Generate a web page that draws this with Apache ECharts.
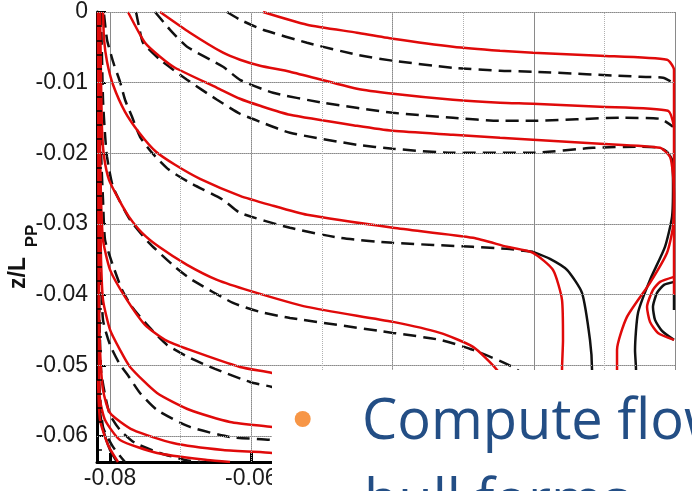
<!DOCTYPE html>
<html>
<head>
<meta charset="utf-8">
<script src="https://cdn.jsdelivr.net/npm/echarts@6/dist/echarts.min.js"></script>
<style>
  html, body { margin: 0; padding: 0; background: #fff; }
  #chart { width: 692px; height: 491px; }
</style>
</head>
<body>
<div id="chart"></div>
<script>
// Axis extents of the z/L_PP section plot
const X_MIN = -0.08185, X_MAX = 0;
const Y_MIN = -0.06368, Y_MAX = 0;

// Minor grid values
const xMinor = [-0.075, -0.07, -0.065, -0.055, -0.05, -0.045, -0.035, -0.03, -0.025, -0.015, -0.01, -0.005];
const yMinor = [-0.062, -0.058, -0.056, -0.054, -0.052, -0.048, -0.046, -0.044, -0.042, -0.038, -0.036, -0.034,
                -0.032, -0.028, -0.026, -0.024, -0.022, -0.018, -0.016, -0.014, -0.012, -0.008, -0.006, -0.004, -0.002];

// Contour levels: red = solid set, black = dashed set
const redA = [[-0.05834,0],[-0.05211,-0.00180],[-0.04503,-0.00293],[-0.03993,-0.00378],[-0.03144,-0.00491],[-0.02478,-0.00548],[-0.02011,-0.00576],[-0.01062,-0.00619],[-0.00113,-0.00675],[-0.00014,-0.00817],[-0.00014,-0.04003]];
const dashA = [[-0.06344,0],[-0.06160,-0.00109],[-0.05834,-0.00251],[-0.05211,-0.00435],[-0.04503,-0.00605],[-0.03993,-0.00690],[-0.03144,-0.00789],[-0.02478,-0.00831],[-0.02011,-0.00845],[-0.00496,-0.00916],[-0.00170,-0.00930],[-0.00028,-0.01001]];

const redB = [[-0.07292,0],[-0.06868,-0.00293],[-0.06400,-0.00576],[-0.06160,-0.00675],[-0.05876,-0.00760],[-0.05452,-0.00845],[-0.04503,-0.01086],[-0.03993,-0.01157],[-0.03144,-0.01242],[-0.02478,-0.01284],[-0.02011,-0.01298],[-0.01062,-0.01341],[-0.00099,-0.01398],[-0.00014,-0.01624]];
const dashB = [[-0.07363,0],[-0.07151,-0.00251],[-0.06910,-0.00491],[-0.06400,-0.00775],[-0.06160,-0.00959],[-0.05692,-0.01143],[-0.04984,-0.01284],[-0.03993,-0.01426],[-0.03144,-0.01497],[-0.02478,-0.01539],[-0.02011,-0.01539],[-0.00779,-0.01497],[-0.00212,-0.01511],[-0.00028,-0.01624]];

const redC = [[-0.07746,0],[-0.07505,-0.00435],[-0.07292,-0.00633],[-0.07080,-0.00789],[-0.06485,-0.01072],[-0.06160,-0.01228],[-0.05876,-0.01327],[-0.05452,-0.01454],[-0.04503,-0.01610],[-0.03993,-0.01681],[-0.03144,-0.01737],[-0.02478,-0.01780],[-0.02011,-0.01808],[-0.01062,-0.01865],[-0.00212,-0.01922],[-0.00071,-0.02049],[-0.00028,-0.02304],[-0.00014,-0.02658],[-0.00028,-0.03040],[-0.00113,-0.03408],[-0.00354,-0.03833],[-0.00680,-0.04315],[-0.00821,-0.04782],[-0.00821,-0.06368]];
const dashC = [[-0.07632,0],[-0.07590,-0.00208],[-0.07533,-0.00435],[-0.07292,-0.00675],[-0.06910,-0.00959],[-0.06485,-0.01242],[-0.06160,-0.01440],[-0.05876,-0.01553],[-0.05452,-0.01709],[-0.04503,-0.01879],[-0.03993,-0.01936],[-0.03144,-0.01992],[-0.02011,-0.01992],[-0.01161,-0.01922],[-0.00496,-0.01907],[-0.00212,-0.01922],[-0.00113,-0.01978]];
const solidC = [[-0.00113,-0.01978],[-0.00042,-0.02091],[-0.00028,-0.02474],[-0.00042,-0.02899],[-0.00142,-0.03323],[-0.00354,-0.03791],[-0.00524,-0.04258],[-0.00566,-0.04782],[-0.00552,-0.05065],[-0.00552,-0.06368]];

const redD = [[-0.08100,0],[-0.08085,-0.00392],[-0.08043,-0.00704],[-0.07958,-0.01029],[-0.07788,-0.01412],[-0.07576,-0.01723],[-0.07349,-0.01978],[-0.07080,-0.02162],[-0.06726,-0.02361],[-0.06160,-0.02601],[-0.05735,-0.02729],[-0.05211,-0.02870],[-0.03993,-0.03054],[-0.02860,-0.03196],[-0.02379,-0.03323],[-0.02011,-0.03408],[-0.01728,-0.03649],[-0.01600,-0.04074],[-0.01586,-0.04640],[-0.01600,-0.05065],[-0.01600,-0.06368]];
const dashD = [[-0.08085,-0.00038],[-0.08043,-0.00392],[-0.07986,-0.00605],[-0.07944,-0.00746],[-0.07859,-0.00987],[-0.07788,-0.01242],[-0.07689,-0.01483],[-0.07576,-0.01766],[-0.07406,-0.01992],[-0.07165,-0.02233],[-0.06868,-0.02417],[-0.06400,-0.02658],[-0.06160,-0.02842],[-0.05452,-0.03054],[-0.04744,-0.03196],[-0.03993,-0.03267],[-0.02860,-0.03323],[-0.02379,-0.03352],[-0.02011,-0.03394]];
const solidD = [[-0.02011,-0.03394],[-0.01770,-0.03493],[-0.01529,-0.03649],[-0.01317,-0.03975],[-0.01204,-0.04640],[-0.01175,-0.05065],[-0.01175,-0.06368]];

const redE = [[-0.08142,0],[-0.08128,-0.00959],[-0.08114,-0.01667],[-0.08085,-0.02049],[-0.08015,-0.02375],[-0.07873,-0.02658],[-0.07731,-0.02899],[-0.07547,-0.03125],[-0.07307,-0.03323],[-0.06910,-0.03578],[-0.06485,-0.03791],[-0.06018,-0.03946],[-0.05211,-0.04173],[-0.03993,-0.04385],[-0.03328,-0.04541],[-0.02860,-0.04739],[-0.02520,-0.05065],[-0.02053,-0.05773],[-0.01841,-0.06368]];
const dashE = [[-0.08128,0],[-0.08100,-0.01242],[-0.08071,-0.01737],[-0.08043,-0.02049],[-0.07958,-0.02474],[-0.07717,-0.02941],[-0.07448,-0.03267],[-0.07080,-0.03607],[-0.06839,-0.03791],[-0.06259,-0.04116],[-0.05876,-0.04244],[-0.05452,-0.04329],[-0.03993,-0.04541],[-0.03328,-0.04640],[-0.02860,-0.04782],[-0.02195,-0.05093],[-0.01628,-0.05915]];

const redF = [[-0.08156,0],[-0.08142,-0.01950],[-0.08128,-0.02658],[-0.08100,-0.03224],[-0.08000,-0.03649],[-0.07788,-0.04031],[-0.07505,-0.04428],[-0.07222,-0.04640],[-0.06868,-0.04782],[-0.06160,-0.05023],[-0.05706,-0.05108],[-0.04885,-0.05320],[-0.03894,-0.05490]];
const dashF = [[-0.08142,0],[-0.08128,-0.01950],[-0.08100,-0.02658],[-0.08071,-0.03224],[-0.07972,-0.03550],[-0.07830,-0.03932],[-0.07689,-0.04173],[-0.07448,-0.04456],[-0.07193,-0.04711],[-0.06868,-0.04895],[-0.06514,-0.05051],[-0.06018,-0.05235],[-0.05706,-0.05306],[-0.05027,-0.05490],[-0.03894,-0.05660]];

const redG = [[-0.08156,0],[-0.08142,-0.02658],[-0.08128,-0.03508],[-0.08100,-0.04074],[-0.08000,-0.04499],[-0.07859,-0.04782],[-0.07717,-0.05023],[-0.07335,-0.05391],[-0.06868,-0.05632],[-0.06301,-0.05801],[-0.05706,-0.05872],[-0.04885,-0.05985],[-0.03894,-0.06056]];
const dashG = [[-0.08156,0],[-0.08142,-0.03366],[-0.08100,-0.04357],[-0.08000,-0.04711],[-0.07873,-0.04966],[-0.07731,-0.05164],[-0.07576,-0.05391],[-0.07335,-0.05632],[-0.06868,-0.05872],[-0.06301,-0.06014],[-0.05706,-0.06056],[-0.04885,-0.06155],[-0.03894,-0.06198]];

const redH = [[-0.08170,0],[-0.08156,-0.04074],[-0.08142,-0.04782],[-0.08100,-0.05348],[-0.08000,-0.05674],[-0.07675,-0.05915],[-0.07108,-0.06099],[-0.06400,-0.06198],[-0.05706,-0.06240],[-0.04885,-0.06311]];
const dashH = [[-0.08156,-0.04074],[-0.08128,-0.05065],[-0.08071,-0.05419],[-0.08000,-0.05702],[-0.07859,-0.05915],[-0.07646,-0.06099],[-0.07292,-0.06240],[-0.06938,-0.06340],[-0.06726,-0.06368]];

const redI = [[-0.08170,0],[-0.08156,-0.05065],[-0.08142,-0.05490],[-0.08071,-0.05773],[-0.07859,-0.06056],[-0.07335,-0.06240],[-0.06627,-0.06340],[-0.06301,-0.06368]];
const dashI = [[-0.08156,-0.05207],[-0.08100,-0.05872],[-0.07958,-0.06155],[-0.07788,-0.06368]];
const redJ = [[-0.08170,-0.05207],[-0.08142,-0.05773],[-0.08029,-0.06127],[-0.07887,-0.06368]];
const blackWall = [[-0.08170,-0.05419],[-0.08114,-0.05844],[-0.08000,-0.06198],[-0.07901,-0.06368]];

// Closed region near the plane of symmetry
const redLoop = [[-0.00014,-0.03748],[-0.00212,-0.03819],[-0.00312,-0.03932],[-0.00396,-0.04173],[-0.00354,-0.04385],[-0.00241,-0.04541],[-0.00014,-0.04640]];
const blackLoop = [[-0.00014,-0.03819],[-0.00156,-0.03862],[-0.00255,-0.03975],[-0.00312,-0.04173],[-0.00283,-0.04357],[-0.00184,-0.04513],[-0.00014,-0.04640]];
const blackEdge = [[-0.00014,-0.04003],[-0.00014,-0.04216]];

const RED = '#e00a0a';
const BLACK = '#111111';

function contour(data, kind) {
  const style = kind === 'red'
    ? { color: RED, width: 2.5, type: 'solid' }
    : kind === 'dash'
      ? { color: BLACK, width: 2.5, type: [13, 7] }
      : { color: BLACK, width: 2.5, type: 'solid' };
  return {
    type: 'line', data: data, showSymbol: false, symbol: 'none', smooth: 0.2,
    lineStyle: style, z: kind === 'red' ? 4 : 3, silent: true, animation: false
  };
}

const reds = [redA, redB, redC, redD, redE, redF, redG, redH, redI, redJ, redLoop];
const dashes = [dashA, dashB, dashC, dashD, dashE, dashF, dashG, dashH, dashI];
const solids = [solidC, solidD, blackWall, blackLoop, blackEdge];

const series = [];
// dotted minor grid
series.push({
  type: 'line', data: [], z: 1, silent: true, animation: false,
  markLine: {
    silent: true, animation: false, symbol: ['none', 'none'], label: { show: false },
    lineStyle: { color: '#b0b0b0', type: 'dotted', width: 1 },
    emphasis: { disabled: true },
    data: xMinor.map(v => ({ xAxis: v })).concat(yMinor.map(v => ({ yAxis: v })))
  }
});
// short minor ticks along the hull wall
series.push({
  type: 'line', data: [], z: 5, silent: true, animation: false,
  markLine: {
    silent: true, animation: false, symbol: ['none', 'none'], label: { show: false },
    lineStyle: { color: '#000', type: 'solid', width: 1.5 },
    emphasis: { disabled: true },
    data: yMinor.map(v => [{ coord: [X_MIN, v] }, { coord: [X_MIN + 0.0007, v] }])
  }
});
dashes.forEach(d => series.push(contour(d, 'dash')));
solids.forEach(d => series.push(contour(d, 'solid')));
reds.forEach(d => series.push(contour(d, 'red')));

const tickText = v => String(+v.toFixed(2));
const labelFont = { fontSize: 23, fontFamily: '"Liberation Sans", Arial, sans-serif', color: '#1a1a1a' };

const chart = echarts.init(document.getElementById('chart'), null, { renderer: 'canvas' });
chart.setOption({
  animation: false,
  backgroundColor: '#ffffff',
  grid: { left: 97, right: 17, top: 12, bottom: 29, containLabel: false },
  xAxis: {
    type: 'value', min: X_MIN, max: X_MAX, splitNumber: 4,
    axisLine: { show: true, onZero: false, lineStyle: { color: '#000', width: 3 } },
    axisTick: { show: true, inside: true, length: 9, lineStyle: { color: '#000', width: 3 } },
    axisLabel: Object.assign({ showMinLabel: false, margin: 5, formatter: tickText }, labelFont),
    splitLine: { show: true, lineStyle: { color: '#8a8a8a', width: 1 } }
  },
  yAxis: {
    type: 'value', min: Y_MIN, max: Y_MAX, splitNumber: 6,
    axisLine: { show: true, onZero: false, lineStyle: { color: '#000', width: 3 } },
    axisTick: { show: true, inside: true, length: 9, lineStyle: { color: '#000', width: 2 } },
    axisLabel: Object.assign({ showMinLabel: false, margin: 9, formatter: tickText }, labelFont),
    splitLine: { show: true, lineStyle: { color: '#8a8a8a', width: 1 } }
  },
  graphic: {
    elements: [
      { type: 'text', x: 18.5, y: 273, rotation: Math.PI / 2, z: 50,
        style: { text: 'z/L', font: 'bold 23px "Liberation Sans", Arial, sans-serif', fill: '#111',
                 align: 'center', verticalAlign: 'middle', textAlign: 'center', textVerticalAlign: 'middle' } },
      { type: 'text', x: 32, y: 236, rotation: Math.PI / 2, z: 50,
        style: { text: 'PP', font: 'bold 17px "Liberation Sans", Arial, sans-serif', fill: '#111',
                 align: 'center', verticalAlign: 'middle', textAlign: 'center', textVerticalAlign: 'middle' } },
      { type: 'rect', z: 100, shape: { x: 272, y: 370, width: 420, height: 121 }, style: { fill: '#ffffff' } },
      { type: 'circle', z: 101, shape: { cx: 302.7, cy: 419, r: 8 }, style: { fill: '#f79646' } },
      { type: 'text', x: 362, y: 423, z: 101,
        style: { text: 'Compute flow', font: '56px "Open Sans", "Noto Sans", sans-serif', fill: '#234e85',
                 align: 'left', verticalAlign: 'middle', textAlign: 'left', textVerticalAlign: 'middle' } },
      { type: 'text', x: 364, y: 503, z: 101,
        style: { text: 'hull forms', font: '56px "Open Sans", "Noto Sans", sans-serif', fill: '#234e85',
                 align: 'left', verticalAlign: 'middle', textAlign: 'left', textVerticalAlign: 'middle' } }
    ]
  },
  series: series
});
</script>
</body>
</html>
